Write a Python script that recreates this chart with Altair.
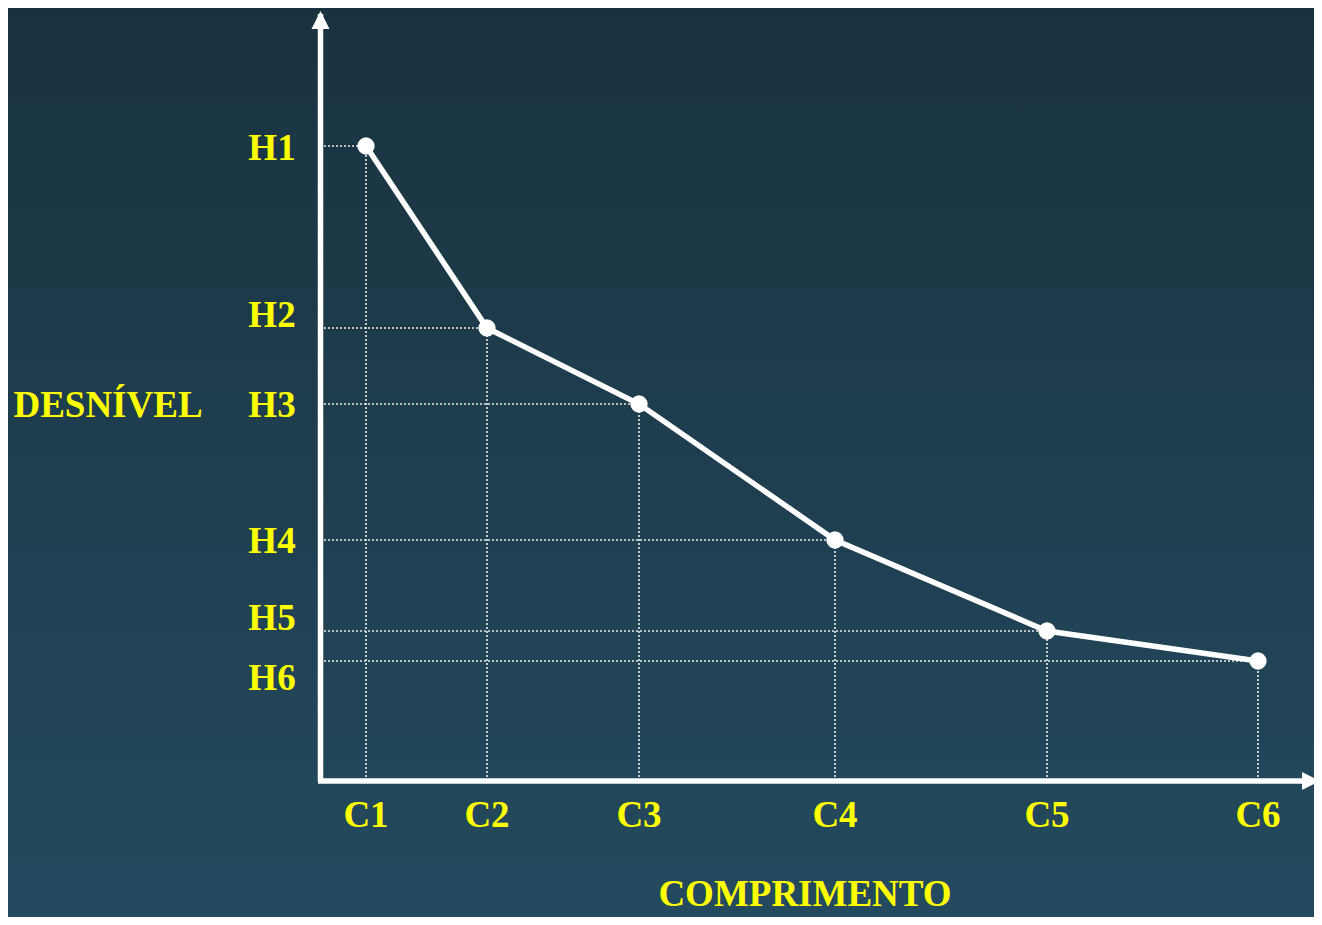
import altair as alt
import pandas as pd

# Categories and values (in pixel-like units from origin)
c_labels = ["C1", "C2", "C3", "C4", "C5", "C6"]
c_values = [46, 167, 319, 515, 727, 938]
h_labels = ["H1", "H2", "H3", "H4", "H5", "H6"]
h_values = [635, 453, 377, 241, 150, 120]
h_label_values = [632, 465, 375, 239, 162, 102]

x_title = "COMPRIMENTO"
y_title = "DESNÍVEL"

W, H = 994, 769
PAD = {"left": 312, "top": 4, "right": 0, "bottom": 136}
YELLOW = "#ffff00"
FONT = "Liberation Serif"

pts = pd.DataFrame({"c": c_values, "h": h_values, "zero": [0] * 6})
hl = pd.DataFrame({"lab": h_labels, "y": h_label_values})
cl = pd.DataFrame({"lab": c_labels, "x": c_values})

xs = alt.Scale(domain=[0, W], nice=False, zero=False)
ys = alt.Scale(domain=[0, H], nice=False, zero=False)

bg = alt.Chart(pd.DataFrame({"a": [0]})).mark_rect(
    color=alt.LinearGradient(
        gradient="linear", x1=0, x2=0, y1=0, y2=1,
        stops=[alt.GradientStop(offset=0, color="#19323f"),
               alt.GradientStop(offset=1, color="#244a5f")])
).encode(x=alt.value(-PAD["left"]), x2=alt.value(W + 10),
         y=alt.value(-PAD["top"] - 8), y2=alt.value(H + PAD["bottom"]))

hdot = alt.Chart(pts).mark_rule(color="white", strokeWidth=1.6, strokeDash=[2, 2], opacity=0.9).encode(
    x=alt.X("zero:Q", scale=xs, axis=None), x2="c:Q",
    y=alt.Y("h:Q", scale=ys, axis=None))
vdot = alt.Chart(pts).mark_rule(color="white", strokeWidth=1.6, strokeDash=[2, 2], opacity=0.9).encode(
    x=alt.X("c:Q", scale=xs, axis=None),
    y=alt.Y("zero:Q", scale=ys, axis=None), y2="h:Q")

line = alt.Chart(pts).mark_line(color="white", strokeWidth=5.5).encode(
    x=alt.X("c:Q", scale=xs, axis=None), y=alt.Y("h:Q", scale=ys, axis=None))
dots = alt.Chart(pts).mark_point(filled=True, color="white", opacity=1, size=300).encode(
    x=alt.X("c:Q", scale=xs, axis=None), y=alt.Y("h:Q", scale=ys, axis=None))

yaxis = alt.Chart(pd.DataFrame({"a": [0]})).mark_rule(color="white", strokeWidth=5.5).encode(
    x=alt.value(0.5), y=alt.value(2), y2=alt.value(H))
xaxis = alt.Chart(pd.DataFrame({"a": [0]})).mark_rule(color="white", strokeWidth=5.5).encode(
    x=alt.value(-2), x2=alt.value(W), y=alt.value(H))
up = alt.Chart(pd.DataFrame({"a": [0]})).mark_point(
    shape="M0,-1L1,1L-1,1Z", filled=True, color="white", opacity=1, size=324).encode(
    x=alt.value(0.5), y=alt.value(8))
right = alt.Chart(pd.DataFrame({"a": [0]})).mark_point(
    shape="M1,0L-1,1L-1,-1Z", filled=True, color="white", opacity=1, size=324).encode(
    x=alt.value(W - 3), y=alt.value(H))

txt = dict(font=FONT, fontWeight="bold", fontSize=37, color=YELLOW, baseline="middle", align="center")
htext = alt.Chart(hl).mark_text(**txt).encode(
    x=alt.value(-48), y=alt.Y("y:Q", scale=ys, axis=None), text="lab:N")
ctext = alt.Chart(cl).mark_text(**txt).encode(
    x=alt.X("x:Q", scale=xs, axis=None), y=alt.value(H + 35), text="lab:N")
ytitle = alt.Chart(pd.DataFrame({"t": [y_title]})).mark_text(**txt).encode(
    x=alt.value(-212), y=alt.value(H - 375), text="t:N")
xtitle_style = dict(txt, baseline="alphabetic")
xtitle = alt.Chart(pd.DataFrame({"t": [x_title]})).mark_text(**xtitle_style).encode(
    x=alt.value(485), y=alt.value(H + 125), text="t:N")

chart = alt.layer(bg, hdot, vdot, line, dots, yaxis, xaxis, up, right,
                  htext, ctext, ytitle, xtitle).properties(
    width=W, height=H, padding=PAD,
    autosize=alt.AutoSizeParams(type="none"),
    background="#1f3f50",
).configure_view(stroke=None)

chart.save("out.html", embed_options={"renderer": "svg", "actions": False})
